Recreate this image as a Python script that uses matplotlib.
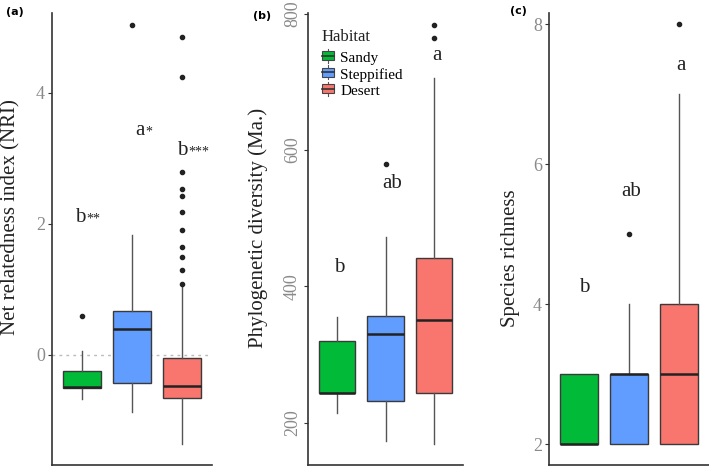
import matplotlib
matplotlib.use('Agg')
import matplotlib.pyplot as plt
from matplotlib.patches import Rectangle
from matplotlib.lines import Line2D
from matplotlib.legend_handler import HandlerBase

plt.rcParams['font.family'] = 'Liberation Serif'

habitats = ["Sandy", "Steppified", "Desert"]
colors = ["#00BA38", "#619CFF", "#F8766D"]

# (a) net relatedness index
nri_q1 = [-0.50, -0.43, -0.65]
nri_med = [-0.49, 0.40, -0.48]
nri_q3 = [-0.24, 0.67, -0.04]
nri_lo = [-0.67, -0.87, -1.36]
nri_hi = [0.06, 1.83, 1.04]
nri_out = [[0.60], [5.04],
           [1.08, 1.29, 1.49, 1.65, 1.91, 2.18, 2.43, 2.53, 2.79, 4.25, 4.85]]
nri_letters = ["b", "a", "b"]
nri_stars = ["**", "*", "***"]
nri_letter_y = [2.1, 3.42, 3.12]

# (b) phylogenetic diversity
pd_q1 = [243, 232, 243]
pd_med = [243, 330, 350]
pd_q3 = [320, 356, 441]
pd_lo = [214, 173, 169]
pd_hi = [355, 472, 705]
pd_out = [[], [579], [765, 783]]
pd_letters = ["b", "ab", "a"]
pd_letter_y = [428, 551, 738]

# (c) species richness
sr_q1 = [2, 2, 2]
sr_med = [2, 3, 3]
sr_q3 = [3, 3, 4]
sr_lo = [2, 2, 2]
sr_hi = [3, 4, 7]
sr_out = [[], [5], [8]]
sr_letters = ["b", "ab", "a"]
sr_letter_y = [4.23, 5.61, 7.41]


class BoxKey(HandlerBase):
    def create_artists(self, legend, orig, xd, yd, w, h, fontsize, trans):
        fc = orig.get_facecolor()
        box = Rectangle((xd, yd + h * 0.1), w, h * 0.8, facecolor=fc,
                        edgecolor='#444444', lw=0.8, transform=trans)
        med = Line2D([xd, xd + w], [yd + h / 2] * 2, color='#333333', lw=1.2, transform=trans)
        wh = Line2D([xd + w / 2] * 2, [yd - h * 0.1, yd + h * 1.1], color='#555555', lw=0.8, transform=trans)
        return [wh, box, med]


fig = plt.figure(figsize=(7.09, 4.66), dpi=100)


def panel(rect, q1, med, q3, lo, hi, out, letters, letter_y, ylim, ticks, ylabel, lab_x, lab_y, rot, dx):
    ax = fig.add_axes(rect)
    stats = []
    for i in range(3):
        stats.append(dict(q1=q1[i], med=med[i], q3=q3[i], whislo=lo[i], whishi=hi[i], fliers=out[i]))
    bp = ax.bxp(stats, positions=[1, 2, 3], widths=0.75, patch_artist=True, showcaps=False,
                boxprops=dict(edgecolor='#3a3a3a', lw=1.0),
                medianprops=dict(color='#222222', lw=1.8),
                whiskerprops=dict(color='#555555', lw=1.0),
                flierprops=dict(marker='o', markersize=3.0, markerfacecolor='#222222',
                                markeredgecolor='#222222'))
    for b, c in zip(bp['boxes'], colors):
        b.set_facecolor(c)
    texts = []
    for i in range(3):
        texts.append(ax.text(i + 1 + dx[i], letter_y[i], letters[i], ha='center', va='center',
                             fontsize=15, color='#222222'))
    ax.set_xlim(0.4, 3.6)
    ax.set_ylim(*ylim)
    ax.set_yticks(ticks)
    ax.set_xticks([])
    for s in ['top', 'right']:
        ax.spines[s].set_visible(False)
    for s in ['left', 'bottom']:
        ax.spines[s].set_color('#333333')
        ax.spines[s].set_linewidth(1.2)
    ax.tick_params(axis='y', length=3, color='#333333', labelcolor='#8a8a8a',
                   labelsize=13, pad=2, labelrotation=rot)
    if rot:
        for t in ax.get_yticklabels():
            t.set_va('center')
    ax.text(lab_x, lab_y, ylabel, transform=ax.transAxes, rotation=90,
            ha='center', va='center', fontsize=15, color='#222222')
    return ax, texts


ax1, t1 = panel([52 / 709, 1 / 466, 160 / 709, 452 / 466], nri_q1, nri_med, nri_q3, nri_lo, nri_hi,
                nri_out, nri_letters, nri_letter_y, (-1.68, 5.22), [0, 2, 4],
                "Net relatedness index (NRI)", -0.255, 0.549, 0, [-0.03, 0.16, 0.01])
ax1.axhline(0, color='#bbbbbb', lw=1.0, ls=(0, (2, 3)), zorder=0)
for t, s in zip(t1, nri_stars):
    ax1.annotate(s, xy=(1, 1), xycoords=t, xytext=(0.5, -3), textcoords='offset points',
                 ha='left', va='top', fontsize=10, color='#222222')

ax2, _ = panel([308 / 709, 1 / 466, 155 / 709, 452 / 466], pd_q1, pd_med, pd_q3, pd_lo, pd_hi,
               pd_out, pd_letters, pd_letter_y, (138, 801), [200, 400, 600, 800],
               "Phylogenetic diversity (Ma.)", -0.32, 0.524, 90, [0.05, 0.14, 0.06])

ax3, _ = panel([549 / 709, 1 / 466, 160 / 709, 452 / 466], sr_q1, sr_med, sr_q3, sr_lo, sr_hi,
               sr_out, sr_letters, sr_letter_y, (1.7, 8.16), [2, 4, 6, 8],
               "Species richness", -0.24, 0.458, 0, [0.1, 0.04, 0.04])

fig.text(322 / 709, 1 - 37 / 466, "Habitat", fontsize=12, va='center', ha='left', color='#222222')
handles = [Rectangle((0, 0), 1, 1, facecolor=c) for c in colors]
leg = fig.legend(handles, habitats, loc='upper left',
                 bbox_to_anchor=(322 / 709, 1 - 51 / 466), frameon=False, fontsize=11,
                 handlelength=0.8, handleheight=0.8, borderpad=0, borderaxespad=0,
                 handletextpad=0.4, labelspacing=0.15,
                 handler_map={Rectangle: BoxKey()})

for lbl, x, y in [("(a)", 6, 12), ("(b)", 253, 16), ("(c)", 510, 11)]:
    fig.text(x / 709, 1 - y / 466, lbl, fontsize=8, fontweight='bold',
             family='DejaVu Sans', va='center', ha='left')

plt.savefig('out.png', dpi=100)
